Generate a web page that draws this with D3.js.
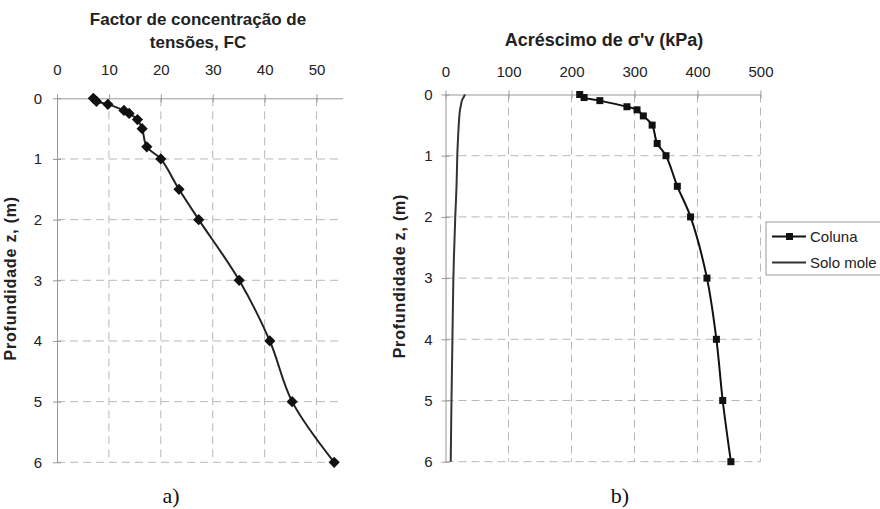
<!DOCTYPE html>
<html>
<head>
<meta charset="utf-8">
<script src="https://cdn.jsdelivr.net/npm/d3@7"></script>
<style>
    body { margin: 0; background: #fff; }
    svg { display: block; font-family: "Liberation Sans", Arial, sans-serif; }
    .grid line { stroke: #b8b8b8; stroke-dasharray: 8,5; }
    .axis path, .axis line { stroke: #999; }
    .axis text { font-size: 15px; fill: #222; font-family: "Liberation Sans", Arial, sans-serif; }
</style>
</head>
<body>
<svg id="chart" width="880" height="509"></svg>
<script>

// depths (m), shared by both panels
var depths = [0, 0.05, 0.1, 0.2, 0.25, 0.35, 0.5, 0.8, 1, 1.5, 2, 3, 4, 5, 6];
// a) stress concentration factor
var fcValues = [7, 7.6, 9.8, 12.9, 13.9, 15.5, 16.4, 17.3, 20, 23.5, 27.3, 35.1, 41, 45.3, 53.4];
// b) vertical stress increase (kPa)
var colunaValues = [213, 220, 245, 288, 304, 314, 328, 336, 350, 368, 389, 415, 430, 440, 453];
var soloValues = [31, 28.5, 26, 24, 23, 22, 21, 19.5, 18.7, 17.5, 15.5, 12.5, 11, 9.5, 8.3];

var depthTicks = [0, 1, 2, 3, 4, 5, 6];
var fcTicks = [0, 10, 20, 30, 40, 50];
var sigmaTicks = [0, 100, 200, 300, 400, 500];
var seriesNames = ["Coluna", "Solo mole"];

var svg = d3.select("#chart");

function panel(opts) {
    var g = svg.append("g");
    var x = opts.x, y = opts.y;
    var x0 = x.range()[0], x1 = x.range()[1];
    var y0 = y.range()[0], y1 = y.range()[1];

    // dashed grid
    g.append("g").attr("class", "grid")
        .selectAll("line")
        .data(opts.xTicks.filter(function (d) { return d > 0; }))
        .enter().append("line")
        .attr("x1", function (d) { return x(d); })
        .attr("x2", function (d) { return x(d); })
        .attr("y1", y0).attr("y2", y1);

    g.append("g").attr("class", "grid")
        .selectAll("line")
        .data(depthTicks.filter(function (d) { return d > 0; }))
        .enter().append("line")
        .attr("x1", x0).attr("x2", x1)
        .attr("y1", function (d) { return y(d); })
        .attr("y2", function (d) { return y(d); });

    var top = g.append("g").attr("class", "axis")
        .attr("transform", "translate(0," + y0 + ")")
        .call(d3.axisTop(x).tickValues(opts.xTicks).tickSizeOuter(0).tickPadding(opts.topPad));
    top.selectAll(".tick line").attr("y1", 4).attr("y2", -4);

    var left = g.append("g").attr("class", "axis")
        .attr("transform", "translate(" + x0 + ",0)")
        .call(d3.axisLeft(y).tickValues(depthTicks).tickFormat(d3.format("d"))
            .tickSizeOuter(0).tickPadding(opts.leftPad));
    left.selectAll(".tick line").attr("x1", 4).attr("x2", -4);
    g.selectAll(".domain").attr("stroke", "#999");

    // titles
    opts.title.forEach(function (t, i) {
        g.append("text")
            .attr("x", opts.titleX)
            .attr("y", opts.titleY + i * 23)
            .attr("text-anchor", "middle")
            .attr("font-weight", "bold")
            .attr("font-size", opts.titleSize)
            .attr("fill", "#222")
            .text(t);
    });

    g.append("text")
        .attr("transform", "translate(" + opts.yLabelX + "," + ((y0 + y1) / 2 - 2) + ") rotate(-90)")
        .attr("text-anchor", "middle")
        .attr("font-weight", "bold")
        .attr("font-size", 16)
        .attr("letter-spacing", "0.8px")
        .attr("fill", "#222")
        .text("Profundidade z, (m)");

    g.append("text")
        .attr("x", opts.captionX)
        .attr("y", 503)
        .attr("text-anchor", "middle")
        .attr("font-family", "'Liberation Serif', 'Times New Roman', serif")
        .attr("font-size", 22)
        .attr("fill", "#111")
        .text(opts.caption);

    return g;
}

function seriesData(values) {
    return values.map(function (v, i) { return { v: v, z: depths[i] }; });
}

// ---- a) FC ----
var xa = d3.scaleLinear().domain([0, 55]).range([57, 342.5]);
var ya = d3.scaleLinear().domain([0, 6]).range([98.3, 462.3]);

var ga = panel({
    x: xa, y: ya, xTicks: fcTicks, topPad: 17, leftPad: 9,
    title: ["Factor de concentração de", "tensões, FC"], titleX: 198, titleY: 25, titleSize: 17,
    yLabelX: 16, caption: "a)", captionX: 171
});

var lineA = d3.line()
    .x(function (d) { return xa(d.v); })
    .y(function (d) { return ya(d.z); })
    .curve(d3.curveCatmullRom.alpha(0.5));

ga.append("path")
    .datum(seriesData(fcValues))
    .attr("d", lineA)
    .attr("fill", "none")
    .attr("stroke", "#222")
    .attr("stroke-width", 2);

ga.selectAll(".diamond")
    .data(seriesData(fcValues))
    .enter().append("path")
    .attr("class", "diamond")
    .attr("d", d3.symbol().type(d3.symbolDiamond2).size(80))
    .attr("transform", function (d) { return "translate(" + xa(d.v) + "," + ya(d.z) + ")"; })
    .attr("fill", "#111");

// ---- b) sigma'v ----
var xb = d3.scaleLinear().domain([0, 500]).range([445.5, 760.5]);
var yb = d3.scaleLinear().domain([0, 6]).range([94.5, 461.7]);

var gb = panel({
    x: xb, y: yb, xTicks: sigmaTicks, topPad: 12, leftPad: 7,
    title: ["Acréscimo de σ'v (kPa)"], titleX: 604, titleY: 46, titleSize: 18,
    yLabelX: 405, caption: "b)", captionX: 620
});

var lineB = d3.line()
    .x(function (d) { return xb(d.v); })
    .y(function (d) { return yb(d.z); })
    .curve(d3.curveCatmullRom.alpha(0.5));

gb.append("path")
    .datum(seriesData(soloValues))
    .attr("d", lineB)
    .attr("fill", "none")
    .attr("stroke", "#333")
    .attr("stroke-width", 2);

gb.append("path")
    .datum(seriesData(colunaValues))
    .attr("d", lineB)
    .attr("fill", "none")
    .attr("stroke", "#111")
    .attr("stroke-width", 2);

gb.selectAll(".sq")
    .data(seriesData(colunaValues))
    .enter().append("rect")
    .attr("class", "sq")
    .attr("x", function (d) { return xb(d.v) - 3.5; })
    .attr("y", function (d) { return yb(d.z) - 3.5; })
    .attr("width", 7).attr("height", 7)
    .attr("fill", "#111");

// legend
var legend = svg.append("g").attr("transform", "translate(766,222)");
legend.append("rect")
    .attr("width", 130).attr("height", 53)
    .attr("fill", "#fff").attr("stroke", "#999");

var item = legend.selectAll(".item")
    .data(seriesNames)
    .enter().append("g")
    .attr("transform", function (d, i) { return "translate(0," + (14.5 + i * 26) + ")"; });

item.append("line")
    .attr("x1", 6).attr("x2", 40)
    .attr("stroke", function (d, i) { return i === 0 ? "#111" : "#333"; })
    .attr("stroke-width", 2);

item.filter(function (d, i) { return i === 0; })
    .append("rect")
    .attr("x", 20).attr("y", -3.5).attr("width", 7).attr("height", 7)
    .attr("fill", "#111");

item.append("text")
    .attr("x", 44).attr("y", 5.5)
    .attr("font-size", 15)
    .attr("fill", "#222")
    .text(function (d) { return d; });

</script>
</body>
</html>
